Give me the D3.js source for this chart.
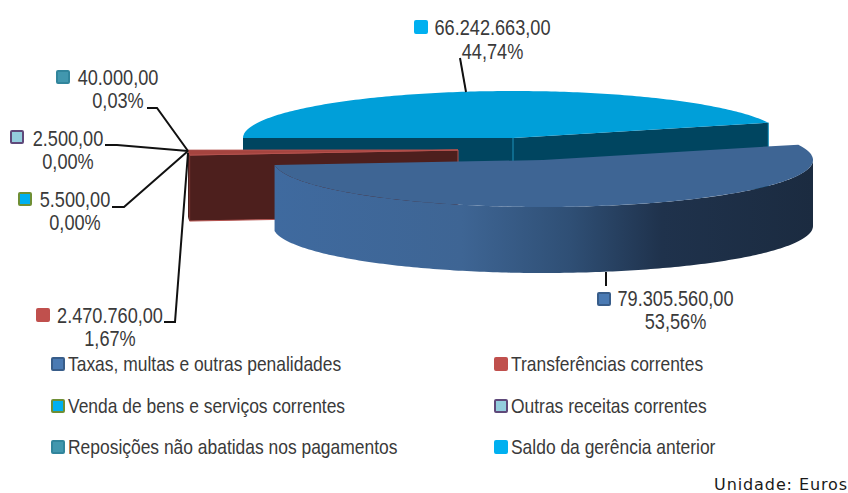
<!DOCTYPE html>
<html>
<head>
<meta charset="utf-8">
<script src="https://cdn.jsdelivr.net/npm/d3@7"></script>
<style>
html, body { margin: 0; padding: 0; background: #fff; }
svg { display: block; }
text { font-family: "Liberation Sans", sans-serif; fill: #3a3a3a; }
</style>
</head>
<body>
<div id="chart"></div>
<script>
const categories = [
    "Taxas, multas e outras penalidades",
    "Transferências correntes",
    "Venda de bens e serviços correntes",
    "Outras receitas correntes",
    "Reposições não abatidas nos pagamentos",
    "Saldo da gerência anterior"
];
const values = [79305560, 2470760, 5500, 2500, 40000, 66242663];
const valueLabels = ["79.305.560,00", "2.470.760,00", "5.500,00", "2.500,00", "40.000,00", "66.242.663,00"];
const percentLabels = ["53,56%", "1,67%", "0,00%", "0,00%", "0,03%", "44,74%"];
const swatchFills = ["#4a7ab3", "#c0504d", "#00b0f0", "#93cddd", "#4197ae", "#00b0f0"];
const swatchStrokes = ["#385d8a", "#c0504d", "#6f8f35", "#5f497a", "#31859c", "#00b0f0"];
const topFills = ["#3e6594", "#a5443f", "#009fd9", "#7fb4c4", "#3a8aa0", "#009fd9"];
const wallFills = ["#3e6594", "#4d1f1d", "#004560", "#4d1f1d", "#4d1f1d", "#004560"];

const width = 848, height = 493;
const cx = 513, cy = 138, rx = 270, ry = 47, depth = 66;
// exploded slices, offset of each slice from the pie centre
const explode = [[30, 22], [-55, 12], [-55, 12], [-55, 12], [-55, 12], [0, 0]];
// label layout: value text centre x, first line baseline, swatch x/y
const labelPos = [
    {x: 675.5, y: 306, sx: 604, sy: 299, dy: 23},
    {x: 110, y: 323, sx: 43, sy: 315, dy: 23},
    {x: 75, y: 207, sx: 25, sy: 199, dy: 23},
    {x: 68, y: 146, sx: 17, sy: 137, dy: 23},
    {x: 118, y: 85, sx: 63, sy: 77, dy: 23},
    {x: 492.5, y: 35, sx: 421, sy: 27, dy: 24}
];
const leaderLines = [
    [[606, 272], [606, 286]],
    [[164, 322], [175, 322], [188, 153]],
    [[112, 207], [124, 207], [188, 151]],
    [[105, 145], [117, 145], [188, 151]],
    [[147, 108], [157, 108], [188, 151]],
    [[460, 58], [466, 92]]
];
const legendPos = [[58, 364], [501, 364], [58, 406], [501, 406], [58, 447], [501, 447]];

let svg = d3.select("#chart").append("svg")
    .attr("width", width)
    .attr("height", height);

let defs = svg.append("defs");
let grad = defs.append("linearGradient")
    .attr("id", "blueSide")
    .attr("gradientUnits", "userSpaceOnUse")
    .attr("x1", 273).attr("x2", 813).attr("y1", 0).attr("y2", 0);
[[0, "#3f6a9f"], [0.35, "#3e6594"], [0.55, "#2f4f75"], [0.72, "#1f324c"], [1, "#1b2b40"]].forEach(function(s) {
    grad.append("stop").attr("offset", s[0]).attr("stop-color", s[1]);
});

// angles here run clockwise from east, in the tilted plane of the pie
let pie = d3.pie().sort(null)
    .startAngle(-19 * Math.PI / 180)
    .endAngle(341 * Math.PI / 180);
let slices = pie(values).map(function(d, i) {
    d.ox = cx + explode[i][0];
    d.oy = cy + explode[i][1];
    return d;
});

function point(d, t, dz) {
    return [d.ox + rx * Math.cos(t), d.oy + ry * Math.sin(t) + (dz || 0)];
}

function arcPoints(d, t0, t1, dz) {
    let n = Math.max(2, Math.ceil(Math.abs(t1 - t0) * 60));
    return d3.range(n + 1).map(function(k) {
        return point(d, t0 + (t1 - t0) * k / n, dz);
    });
}

let line = d3.line();

function topPath(d) {
    return line([[d.ox, d.oy]].concat(arcPoints(d, d.startAngle, d.endAngle))) + "Z";
}

function radialWall(d, t) {
    let p = point(d, t);
    return line([[d.ox, d.oy], p, [p[0], p[1] + depth], [d.ox, d.oy + depth]]) + "Z";
}

function outerWall(d) {
    let t0 = Math.max(d.startAngle, 0);
    let t1 = Math.min(d.endAngle, Math.PI);
    if (t1 <= t0) return null;
    return line(arcPoints(d, t0, t1).concat(arcPoints(d, t1, t0, depth))) + "Z";
}

// back to front: saldo, the small slices, then transferências, then taxas
let drawOrder = [5, 4, 3, 2, 1, 0];
let pieG = svg.append("g");

drawOrder.forEach(function(i) {
    let d = slices[i];
    let g = pieG.append("g").attr("class", "slice");
    if (i !== 0) {
        g.append("path").attr("d", radialWall(d, d.endAngle)).attr("fill", wallFills[i]);
        g.append("path").attr("d", radialWall(d, d.startAngle)).attr("fill", wallFills[i])
            .attr("stroke", i === 1 ? "#b5524e" : "none").attr("stroke-width", 1);
    }
    if (i === 5) {
        let p = point(d, d.endAngle);
        g.append("line")
            .attr("x1", d.ox).attr("x2", d.ox)
            .attr("y1", d.oy).attr("y2", d.oy + depth)
            .attr("stroke", "#1c93bb").attr("stroke-width", 1);
        g.append("line")
            .attr("x1", p[0]).attr("x2", p[0])
            .attr("y1", p[1]).attr("y2", p[1] + depth)
            .attr("stroke", "#0f8fbd").attr("stroke-width", 1);
    }
    let w = outerWall(d);
    if (w) {
        g.append("path").attr("d", w)
            .attr("fill", i === 0 ? "url(#blueSide)" : wallFills[i]);
    }
    g.append("path").attr("d", topPath(d))
        .attr("fill", topFills[i])
        .attr("stroke", i === 1 ? "#b5524e" : "none")
        .attr("stroke-width", 1);
});

svg.append("g")
    .selectAll("path")
    .data(leaderLines)
    .enter().append("path")
    .attr("d", function(d) { return line(d); })
    .attr("fill", "none")
    .attr("stroke", "#111")
    .attr("stroke-width", 2);

function swatch(sel, x, y, i, size) {
    sel.append("rect")
        .attr("x", x - size / 2 + 0.5)
        .attr("y", y - size / 2 + 0.5)
        .attr("width", size - 1)
        .attr("height", size - 1)
        .attr("rx", 1)
        .attr("fill", swatchFills[i])
        .attr("stroke", swatchStrokes[i])
        .attr("stroke-width", 2);
}

// the reference uses a condensed face, so squeeze the text sideways
function squeezed(sel, x, y, size, sx, anchor, str) {
    sel.append("text")
        .attr("transform", "translate(" + x + "," + y + ") scale(" + sx + ",1)")
        .attr("text-anchor", anchor)
        .attr("font-size", size)
        .text(str);
}

let labels = svg.append("g");
values.forEach(function(v, i) {
    let p = labelPos[i];
    swatch(labels, p.sx, p.sy, i, 13);
    squeezed(labels, p.x, p.y, 22, 0.825, "middle", valueLabels[i]);
    squeezed(labels, p.x, p.y + p.dy, 22, 0.825, "middle", percentLabels[i]);
});

let legend = svg.append("g");
categories.forEach(function(c, i) {
    let p = legendPos[i];
    swatch(legend, p[0], p[1], i, 13);
    squeezed(legend, p[0] + 10, p[1] + 7, 20, 0.872, "start", c);
});

svg.append("text")
    .attr("x", 848).attr("y", 490)
    .attr("text-anchor", "end")
    .attr("font-size", 16)
    .attr("letter-spacing", 0.9)
    .style("font-family", "'DejaVu Sans', sans-serif")
    .style("fill", "#1a1a1a")
    .text("Unidade: Euros");
</script>
</body>
</html>
